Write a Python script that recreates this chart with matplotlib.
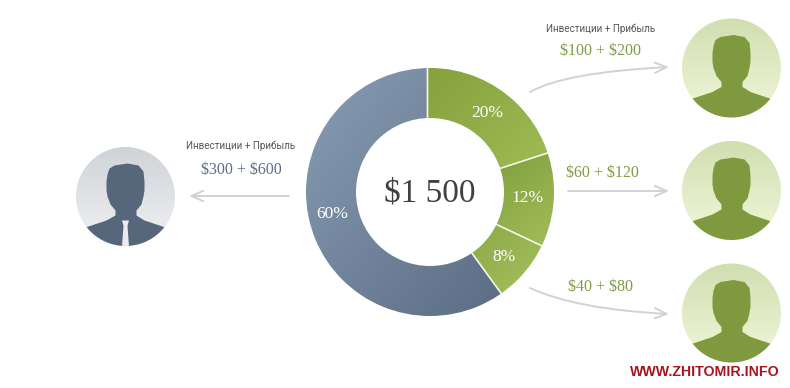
import matplotlib
matplotlib.use('Agg')
import matplotlib.pyplot as plt
import numpy as np
from matplotlib.colors import to_rgb
from matplotlib.patches import Circle, FancyArrowPatch, Polygon, Wedge

# Data
shares = [20, 12, 8, 60]
share_labels = ['20%', '12%', '8%', '60%']
total_label = '$1 500'
payouts = ['$100 + $200', '$60 + $120', '$40 + $80', '$300 + $600']
caption = 'Инвестиции + Прибыль'
watermark = 'WWW.ZHITOMIR.INFO'

# Gradient colours of the slices (first colour top left, second bottom right)
slice_colors = [('#84a03c', '#a2bf57'), ('#769336', '#a3c05a'),
                ('#7f9b3c', '#a8c460'), ('#8a9fb6', '#5a6b83')]
green = '#7f9b45'
blue = '#5e6f85'
arrow_grey = '#d2d2d2'

fig = plt.figure(figsize=(7.9, 3.88), dpi=100)
ax = fig.add_axes([0, 0, 1, 1])

# The slices fan out from a point a little left of the ring centre, as in the picture
wedges, _ = ax.pie(shares, center=(427.5, 192), radius=135, startangle=-90,
                   counterclock=True,
                   wedgeprops=dict(facecolor='none', edgecolor='#f3f6e6', linewidth=1, zorder=2))

for wedge, (c0, c1) in zip(wedges, slice_colors):
    box = wedge.get_path().get_extents()
    u, v = np.meshgrid(np.linspace(0, 1, 80), np.linspace(0, 1, 80))
    t = ((u + v) / 2)[..., None]
    grad = (1 - t) * np.array(to_rgb(c0)) + t * np.array(to_rgb(c1))
    im = ax.imshow(grad, extent=(box.x0, box.x1, box.y1, box.y0), aspect='auto', zorder=1)
    im.set_clip_path(wedge)

# White mask cuts the ring out of the fan
ax.add_patch(Wedge((430, 192), 142, 0, 360, width=18, facecolor='white', edgecolor='none', zorder=3))
ax.add_patch(Circle((430, 192), 74, facecolor='white', edgecolor='none', zorder=3))

label_pos = [(487, 113), (528, 198), (504, 257), (332, 214)]
for lab, (x, y) in zip(share_labels, label_pos):
    ax.text(x, y, lab, color='white', fontsize=12.5, family='Liberation Serif',
            ha='center', va='center', zorder=4, parse_math=False)
ax.text(429.5, 193, total_label, color='#404040', fontsize=24, family='Liberation Serif',
        ha='center', va='center', zorder=4, parse_math=False)

# Silhouette outline, pixels from the avatar centre
head_x = np.array([-18, -16, -11, 2, 13, 18, 19, 19, 18, 16, 11, 11, 19, 40, 70, -70, -40, -19, -10, -10, -15, -18, -19, -19])
head_y = np.array([-22, -28, -31, -33, -31, -25, -15, -6, 0, 8, 14, 19, 24, 31, 60, 60, 31, 24, 19, 14, 8, 0, -6, -15])


def avatar(cx, cy, top, bottom, body, tie=False):
    disc = Circle((cx, cy), 49.5, facecolor='none', edgecolor='none', zorder=4)
    ax.add_patch(disc)
    t = np.linspace(0, 1, 100)[:, None, None]
    grad = (1 - t) * np.array(to_rgb(top)) + t * np.array(to_rgb(bottom))
    im = ax.imshow(grad, extent=(cx - 50, cx + 50, cy + 50, cy - 50), aspect='auto', zorder=4)
    im.set_clip_path(disc)
    sil = Polygon(np.column_stack([cx + head_x, cy + head_y]), closed=True,
                  facecolor=body, edgecolor='none', zorder=5)
    ax.add_patch(sil)
    sil.set_clip_path(disc)
    if tie:
        knot = Polygon([(cx - 3.5, cy + 24), (cx + 3.5, cy + 24), (cx + 2, cy + 29), (cx + 3.5, cy + 50), (cx - 3.5, cy + 50), (cx - 2, cy + 29)],
                       closed=True, facecolor='#e9ebee', edgecolor='none', zorder=6)
        ax.add_patch(knot)
        knot.set_clip_path(disc)


avatar(731.5, 68, '#d0deb0', '#f1f7d9', '#7f9a3e')
avatar(731.5, 190.5, '#d0deb0', '#f1f7d9', '#7f9a3e')
avatar(731.5, 313, '#d0deb0', '#f1f7d9', '#7f9a3e')
avatar(125.5, 196.5, '#cfd3d7', '#f0f1f3', '#56677c', tie=True)

# Arrows
arrow_style = dict(arrowstyle='->,head_length=8.5,head_width=3.7', color=arrow_grey, lw=1.4, shrinkA=0, shrinkB=0, zorder=4)
ax.add_patch(FancyArrowPatch((530, 92), (669, 67), connectionstyle='angle3,angleA=30,angleB=3', **arrow_style))
ax.add_patch(FancyArrowPatch((568, 191), (669, 191), **arrow_style))
ax.add_patch(FancyArrowPatch((530, 288), (669, 314), connectionstyle='angle3,angleA=-25,angleB=-3', **arrow_style))
ax.add_patch(FancyArrowPatch((289, 196), (189, 196), **arrow_style))

# Texts around the ring
payout_pos = [(601, 51.5), (602, 172.5), (600, 287), (241, 170)]
payout_col = [green, green, green, blue]
for lab, (x, y), col in zip(payouts, payout_pos, payout_col):
    ax.text(x, y, lab, color=col, fontsize=11.5, family='Liberation Serif', ha='center', va='center', zorder=4, parse_math=False)
for x, y in [(601, 29), (241, 146)]:
    ax.text(x, y, caption, color='#555555', fontsize=7.1, family='Roboto', ha='center', va='center', zorder=4)

ax.text(704.5, 372, watermark, color='#a6141d', fontsize=10.2, fontweight='bold',
        family='Liberation Sans', ha='center', va='center', zorder=7)

ax.set_aspect('auto')
ax.set_xlim(0, 790)
ax.set_ylim(388, 0)
ax.axis('off')
fig.savefig('out.png', dpi=100, facecolor='white')
